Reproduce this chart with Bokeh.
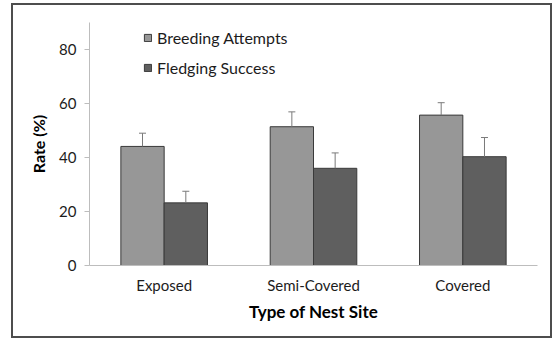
from bokeh.plotting import figure
from bokeh.models import (ColumnDataSource, FactorRange, Range1d, Whisker, TeeHead,
                          Legend, LegendItem, FixedTicker, InlineStyleSheet)
from bokeh.transform import dodge
from bokeh.embed import file_html
from bokeh.resources import INLINE

# Nest site categories and rates (%) with their error bars
sites = ["Exposed", "Semi-Covered", "Covered"]
breeding_attempts = [44.1, 51.4, 55.7]
breeding_err = [4.9, 5.5, 4.6]
fledging_success = [23.2, 36.0, 40.3]
fledging_err = [4.3, 5.7, 7.1]
y_ticks = [0, 20, 40, 60, 80]

FONT = "Lato"
BA_COLOR = "#979797"
FS_COLOR = "#5f5f5f"
EDGE = "#3a3a3a"
AXIS_GRAY = "#bdbdbd"
TEXT = "#1c1c1c"

src = ColumnDataSource(dict(
    site=sites,
    ba=breeding_attempts,
    ba_hi=[v + e for v, e in zip(breeding_attempts, breeding_err)],
    fs=fledging_success,
    fs_hi=[v + e for v, e in zip(fledging_success, fledging_err)],
))

p = figure(width=558, height=339, x_range=FactorRange(factors=sites),
           y_range=Range1d(0, 90), output_backend="svg", toolbar_location=None,
           min_border_left=89, min_border_right=21, min_border_top=22,
           min_border_bottom=74)
# thin dark box framing the whole chart
p.stylesheets = [InlineStyleSheet(css="""
:host { position: relative; }
:host::after {
  content: ""; position: absolute; box-sizing: border-box;
  left: 11px; top: 3px; width: 541px; height: 335px;
  border: 2px solid #4d4d4d; pointer-events: none; z-index: 10;
}
""")]
p.outline_line_color = None
p.grid.grid_line_color = None
p.background_fill_color = "white"
p.border_fill_color = "white"

bw = 0.29
r_ba = p.vbar(x=dodge("site", -bw / 2, range=p.x_range), top="ba", width=bw,
              source=src, fill_color=BA_COLOR, line_color=EDGE, line_width=1)
r_fs = p.vbar(x=dodge("site", bw / 2, range=p.x_range), top="fs", width=bw,
              source=src, fill_color=FS_COLOR, line_color=EDGE, line_width=1)

for col, hi, off in (("ba", "ba_hi", -bw / 2), ("fs", "fs_hi", bw / 2)):
    w = Whisker(base=dodge("site", off, range=p.x_range), lower=col, upper=hi,
                source=src, line_color="#7a7a7a", line_width=1,
                upper_head=TeeHead(size=7, line_color="#7a7a7a", line_width=1),
                lower_head=None, level="overlay")
    p.add_layout(w)

# y axis
ya = p.yaxis[0]
ya.ticker = FixedTicker(ticks=y_ticks)
ya.minor_tick_line_color = None
ya.axis_line_color = AXIS_GRAY
ya.major_tick_line_color = AXIS_GRAY
ya.major_tick_out = 5
ya.major_tick_in = 0
ya.major_label_standoff = 8
ya.major_label_text_font = FONT
ya.major_label_text_font_size = "15px"
ya.major_label_text_color = TEXT
ya.axis_label = "Rate (%)"
ya.axis_label_text_font = FONT
ya.axis_label_text_font_style = "bold"
ya.axis_label_text_font_size = "16px"
ya.axis_label_text_color = "black"
ya.axis_label_standoff = 8

# x axis
xa = p.xaxis[0]
xa.axis_line_color = AXIS_GRAY
xa.major_tick_line_color = None
xa.major_tick_out = 0
xa.major_tick_in = 0
xa.major_label_standoff = 10
xa.major_label_text_font = FONT
xa.major_label_text_font_size = "15px"
xa.major_label_text_color = TEXT
xa.axis_label = "Type of Nest Site"
xa.axis_label_text_font = FONT
xa.axis_label_text_font_style = "bold"
xa.axis_label_text_font_size = "17px"
xa.axis_label_text_color = "black"
xa.axis_label_standoff = 4

legend = Legend(items=[LegendItem(label="Breeding Attempts", renderers=[r_ba]),
                       LegendItem(label="Fledging Success", renderers=[r_fs])],
                location=(54, 188), orientation="vertical",
                glyph_width=9, glyph_height=9, label_height=20, spacing=10,
                padding=0, margin=0, label_standoff=5,
                label_text_font=FONT, label_text_font_size="16px",
                label_text_color=TEXT, border_line_color=None,
                background_fill_alpha=0)
p.add_layout(legend)

open("out.html", "w").write(file_html(p, INLINE))
